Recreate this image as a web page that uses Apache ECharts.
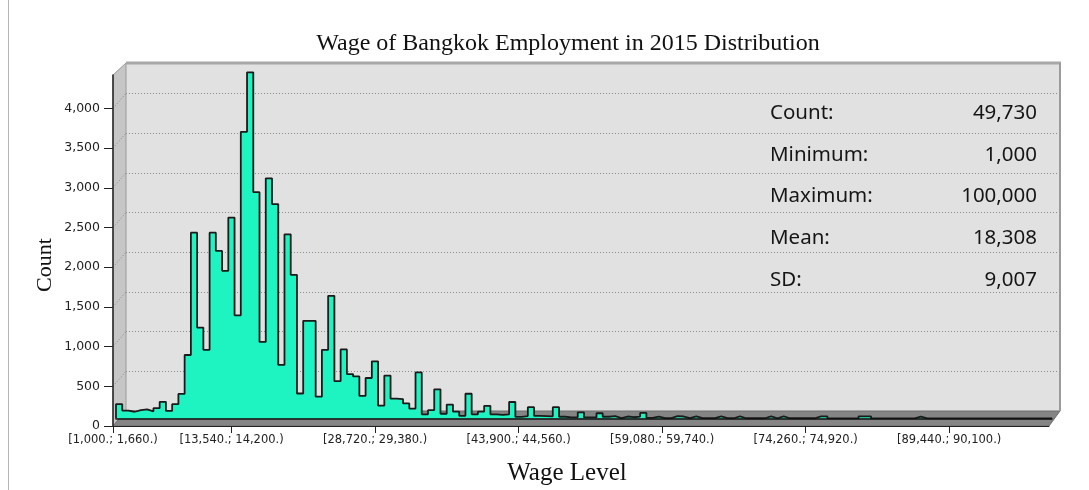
<!DOCTYPE html>
<html>
<head>
<meta charset="utf-8">
<title>Wage of Bangkok Employment in 2015 Distribution</title>
<script src="https://cdn.jsdelivr.net/npm/echarts@6/dist/echarts.min.js"></script>
<style>
  html, body { margin: 0; padding: 0; background: #ffffff; }
  #chart { width: 1089px; height: 490px; }
</style>
</head>
<body>
<div id="chart"></div>
<script>
// Histogram bins: 150 bins of width 660 starting at 1,000
const binStart = 1000;
const binWidth = 660;
const counts = [
  180, 100, 85, 105, 115, 90, 130, 210, 95, 180,
  310, 800, 2340, 1145, 865, 2340, 2110, 1860, 2530, 1300,
  3610, 4360, 2850, 965, 3025, 2700, 675, 2320, 1810, 315,
  1230, 1230, 275, 865, 1545, 470, 870, 560, 530, 285,
  510, 720, 162, 540, 250, 245, 190, 125, 580, 52,
  105, 367, 60, 175, 86, 34, 312, 52, 86, 160,
  52, 45, 52, 208, 20, 30, 143, 32, 30, 28,
  143, 22, 15, 15, 78, 14, 14, 66, 22, 30,
  6, 25, 16, 24, 70, 8, 25, 5, 5, 30,
  25, 5, 28, 5, 4, 4, 28, 4, 3, 28,
  3, 3, 3, 3, 28, 3, 28, 3, 3, 3,
  3, 3, 28, 28, 2, 2, 2, 2, 2, 28,
  28, 2, 2, 2, 2, 2, 2, 2, 25, 2,
  2, 2, 2, 2, 2, 2, 2, 2, 2, 2,
  1, 1, 1, 1, 1, 1, 1, 1, 1, 2
];

// Category tick labels on the wage axis
const tickStarts = [1000, 13540, 28720, 43900, 59080, 74260, 89440];
const tickLabels = [
  '[1,000.; 1,660.)',
  '[13,540.; 14,200.)',
  '[28,720.; 29,380.)',
  '[43,900.; 44,560.)',
  '[59,080.; 59,740.)',
  '[74,260.; 74,920.)',
  '[89,440.; 90,100.)'
];
const yTicks = [0, 500, 1000, 1500, 2000, 2500, 3000, 3500, 4000];

// Summary statistics panel
const statNames = ['Count:', 'Minimum:', 'Maximum:', 'Mean:', 'SD:'];
const statValues = ['49,730', '1,000', '100,000', '18,308', '9,007'];

const titleText = 'Wage of Bangkok Employment in 2015 Distribution';
const xName = 'Wage Level';
const yName = 'Count';

// ---- layout of the pseudo-3D box ----
const PPU = 0.0794;                 // pixels per count
const BACK  = { l: 126, r: 1060, t: 63, b: 411 };   // back wall
const PLANE = { l: 116, r: 1052, t: 58, b: 418.5 }; // plane the histogram sits on
const FRONT = { l: 113, r: 1049, t: 75, b: 426 };   // front edge with the axes
const xMin = binStart;
const xMax = binStart + binWidth * counts.length;

function gridOf(box) {
  return { left: box.l, top: box.t, width: box.r - box.l, height: box.b - box.t };
}
const fmt = v => v.toLocaleString('en-US');

// Step outline of the histogram: one point per bin edge
const stepData = [[xMin, 0]];
counts.forEach((c, i) => stepData.push([binStart + binWidth * i, c]));
stepData.push([xMax, counts[counts.length - 1]]);
stepData.push([xMax, 0]);

const chart = echarts.init(document.getElementById('chart'), null, { renderer: 'canvas' });

const sans = '"DejaVu Sans", sans-serif';
const serif = '"Liberation Serif", "DejaVu Serif", serif';
const statFont = '20.5px "Noto Sans", sans-serif';

// Decorative walls and floor of the box
const graphics = [];
graphics.push({
  type: 'line', z: 0, silent: true,
  shape: { x1: 8.5, y1: 0, x2: 8.5, y2: 490 },
  style: { stroke: '#b4b4b4', lineWidth: 1 }
});
graphics.push({
  type: 'polygon', z: 1, silent: true,
  shape: { points: [[FRONT.l, FRONT.t], [BACK.l, BACK.t], [BACK.l, BACK.b], [FRONT.l, FRONT.b]] },
  style: { fill: '#c6c6c6', stroke: '#9a9a9a', lineWidth: 1 }
});
yTicks.slice(1).forEach(v => {
  graphics.push({
    type: 'line', z: 1, silent: true,
    shape: { x1: FRONT.l, y1: FRONT.b - v * PPU, x2: BACK.l, y2: BACK.b - v * PPU },
    style: { stroke: '#8a8a8a', lineWidth: 1, lineDash: [1, 2] }
  });
});
graphics.push({
  type: 'polygon', z: 1, silent: true,
  shape: { points: [[BACK.l, BACK.b], [BACK.r, BACK.b], [FRONT.r, FRONT.b], [FRONT.l, FRONT.b]] },
  style: { fill: '#858585', stroke: '#6e6e6e', lineWidth: 1 }
});
graphics.push({
  type: 'line', z: 1, silent: true,
  shape: { x1: BACK.l, y1: BACK.t, x2: BACK.r + 1, y2: BACK.t },
  style: { stroke: '#a8a8a8', lineWidth: 3 }
});
graphics.push({
  type: 'line', z: 1, silent: true,
  shape: { x1: BACK.r, y1: BACK.t, x2: BACK.r, y2: BACK.b },
  style: { stroke: '#9c9c9c', lineWidth: 2 }
});
// Title and axis names
graphics.push({
  type: 'text', z: 5, x: 568, y: 44, silent: true,
  style: { text: titleText, align: 'center', verticalAlign: 'middle', font: '24px ' + serif, fill: '#111' }
});
graphics.push({
  type: 'text', z: 5, x: 567, y: 473, silent: true,
  style: { text: xName, align: 'center', verticalAlign: 'middle', font: '25px ' + serif, fill: '#111' }
});
graphics.push({
  type: 'text', z: 5, x: 45, y: 265, rotation: Math.PI / 2, silent: true,
  style: { text: yName, align: 'center', verticalAlign: 'middle', font: '22px ' + serif, fill: '#111' }
});
// Statistics panel
statNames.forEach((name, i) => {
  const y = 113 + 41.8 * i;
  graphics.push({
    type: 'text', z: 5, x: 770, y: y, silent: true,
    style: { text: name, align: 'left', verticalAlign: 'middle', font: statFont, fill: '#151515' }
  });
  graphics.push({
    type: 'text', z: 5, x: 1037, y: y, silent: true,
    style: { text: statValues[i], align: 'right', verticalAlign: 'middle', font: statFont, fill: '#151515' }
  });
});

const option = {
  animation: false,
  backgroundColor: '#ffffff',
  grid: [
    Object.assign({ show: true, backgroundColor: '#e1e1e1', borderWidth: 0 }, gridOf(BACK)),
    gridOf(PLANE),
    gridOf(FRONT)
  ],
  xAxis: [
    { gridIndex: 0, type: 'value', min: xMin, max: xMax, show: false },
    {
      gridIndex: 1, type: 'value', min: xMin, max: xMax, z: 3,
      axisLine: { show: true, onZero: false, lineStyle: { color: '#111', width: 1.5 } },
      axisTick: { show: false }, axisLabel: { show: false }, splitLine: { show: false }
    },
    {
      gridIndex: 2, type: 'value', min: xMin, max: xMax, z: 3,
      axisLine: { show: true, onZero: false, lineStyle: { color: '#222', width: 1 } },
      axisTick: { show: true, length: 7, inside: false, customValues: tickStarts, lineStyle: { color: '#222' } },
      axisLabel: {
        show: true, customValues: tickStarts, margin: 8,
        fontFamily: sans, fontSize: 11.5, color: '#222',
        formatter: v => { const k = tickStarts.indexOf(v); return k >= 0 ? tickLabels[k] : ''; }
      },
      splitLine: { show: false }
    }
  ],
  yAxis: [
    {
      gridIndex: 0, type: 'value', min: 0, max: (BACK.b - BACK.t) / PPU, interval: 500,
      axisLine: { show: false }, axisTick: { show: false }, axisLabel: { show: false },
      splitLine: { show: true, lineStyle: { color: '#8c8c8c', width: 1, type: [1, 2] } }
    },
    {
      gridIndex: 1, type: 'value', min: 0, max: (PLANE.b - PLANE.t) / PPU, show: false
    },
    {
      gridIndex: 2, type: 'value', min: 0, max: (FRONT.b - FRONT.t) / PPU, z: 3,
      axisLine: { show: true, lineStyle: { color: '#222', width: 1.5 } },
      axisTick: { show: true, length: 9, customValues: yTicks, lineStyle: { color: '#222' } },
      axisLabel: {
        show: true, customValues: yTicks, margin: 13,
        fontFamily: sans, fontSize: 12.5, color: '#222',
        formatter: v => yTicks.includes(v) ? fmt(v) : ''
      },
      splitLine: { show: false }
    }
  ],
  graphic: { elements: graphics },
  series: [
    {
      name: 'Count',
      type: 'line',
      xAxisIndex: 1, yAxisIndex: 1,
      step: 'end',
      data: stepData,
      symbol: 'none',
      z: 2,
      lineStyle: { color: '#1a1a1a', width: 1.8 },
      areaStyle: { color: '#1ef3c2', opacity: 1 }
    }
  ]
};

chart.setOption(option);
</script>
</body>
</html>
